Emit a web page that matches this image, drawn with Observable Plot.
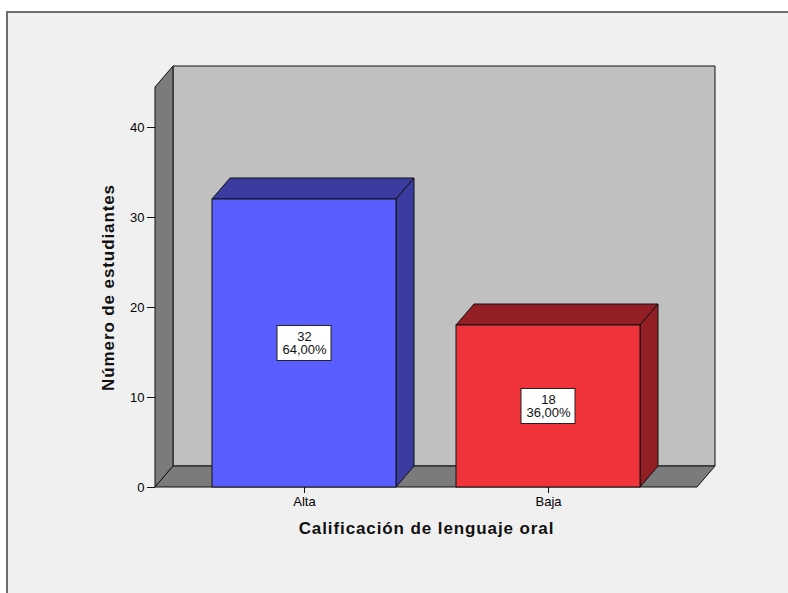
<!DOCTYPE html>
<html><head><meta charset="utf-8">
<script src="https://cdn.jsdelivr.net/npm/d3@7"></script>
<script src="https://cdn.jsdelivr.net/npm/@observablehq/plot@0.6"></script>
<style>
html,body{margin:0;padding:0;background:#fff;}
body{width:788px;height:593px;overflow:hidden;position:relative;font-family:"Liberation Sans",Arial,sans-serif;}
#frame{position:absolute;left:6px;top:11px;width:800px;height:600px;background:#f0f0f0;border-left:2px solid #6e6e6e;border-top:2px solid #6e6e6e;}
#chart{position:absolute;left:0;top:0;}
.title text{letter-spacing:0.9px;}
</style></head><body>
<div id="frame"></div><div id="chart"></div>
<script>
const categories = ["Alta", "Baja"];
const counts = [32, 18];
const percentLabels = ["64,00%", "36,00%"];
const yTicks = [0, 10, 20, 30, 40];
const xTitle = "Calificación de lenguaje oral";
const yTitle = "Número de estudiantes";

const data = categories.map((c, i) => ({cat: c, count: counts[i], pct: percentLabels[i]}));
const frontColors = ["#5a5eff", "#f0323a"];
const shadeColors = ["#3a3d9f", "#931f24"];
const DX = 18, DY = 21;
const yMax = 400 / 9;

function poly(g, pts, fill) {
  g.append("path")
    .attr("d", "M" + pts.map(p => p.join(",")).join("L") + "Z")
    .attr("fill", fill).attr("stroke", "#111").attr("stroke-width", 1).attr("stroke-linejoin", "round");
}

function walls(index, scales, values, dims) {
  const {y} = scales;
  const g = d3.create("svg:g");
  const x0 = dims.marginLeft, x1 = dims.width - dims.marginRight;
  const yb = y(0), yt = y(yMax);
  poly(g, [[x0 + DX, yt - DY], [x1 + DX, yt - DY], [x1 + DX, yb - DY], [x0 + DX, yb - DY]], "#c0c0c0");
  poly(g, [[x0, yb], [x0, yt], [x0 + DX, yt - DY], [x0 + DX, yb - DY]], "#7b7b7b");
  poly(g, [[x0, yb], [x1, yb], [x1 + DX, yb - DY], [x0 + DX, yb - DY]], "#7b7b7b");
  return g.node();
}

function barDepth(index, scales, values, dims) {
  const {x, y} = scales;
  const bw = x.bandwidth();
  const g = d3.create("svg:g");
  const yb = y(0);
  data.forEach((d, i) => {
    const bx = x(d.cat), Y = y(d.count);
    poly(g, [[bx, Y], [bx + bw, Y], [bx + bw + DX, Y - DY], [bx + DX, Y - DY]], shadeColors[i]);
    poly(g, [[bx + bw, Y], [bx + bw + DX, Y - DY], [bx + bw + DX, yb - DY], [bx + bw, yb]], shadeColors[i]);
  });
  return g.node();
}

function labelBoxes(index, scales) {
  const {x, y} = scales;
  const bw = x.bandwidth();
  const g = d3.create("svg:g");
  data.forEach(d => {
    const cx = x(d.cat) + bw / 2, cy = y(d.count / 2);
    g.append("rect").attr("x", cx - 27).attr("y", cy - 17.5).attr("width", 54).attr("height", 35)
      .attr("fill", "#fff").attr("stroke", "#222").attr("stroke-width", 1);
  });
  return g.node();
}

const plot = Plot.plot({
  width: 788,
  height: 593,
  marginLeft: 155,
  marginRight: 91,
  marginTop: 87,
  marginBottom: 106,
  style: {background: "transparent", fontFamily: "'Liberation Sans', Arial, sans-serif", fontSize: "13px", color: "#000", overflow: "visible"},
  x: {domain: categories, paddingInner: 0.247, paddingOuter: 0.233, label: null},
  y: {domain: [0, yMax], label: null},
  color: {domain: categories, range: frontColors},
  marks: [
    walls,
    barDepth,
    Plot.barY(data, {x: "cat", y: "count", fill: "cat", stroke: "#111", strokeWidth: 1}),
    labelBoxes,
    Plot.text(data, {x: "cat", y: d => d.count / 2, text: d => d.count + "\n" + d.pct, fontSize: 13, lineHeight: 1, fill: "#111"}),
    Plot.axisY({ticks: yTicks, tickSize: 8, tickPadding: 3, label: null, stroke: "#111"}),
    Plot.axisX({tickSize: 6, tickPadding: 3, label: null, stroke: "#111"}),
    Plot.text([xTitle], {frameAnchor: "bottom", dy: 46, fontWeight: "bold", fontSize: 17, fill: "#111", className: "title"}),
    Plot.text([yTitle], {frameAnchor: "left", textAnchor: "middle", rotate: -90, dx: -47, fontWeight: "bold", fontSize: 17, fill: "#111", className: "title"})
  ]
});
document.getElementById("chart").appendChild(plot);
</script>
</body></html>
